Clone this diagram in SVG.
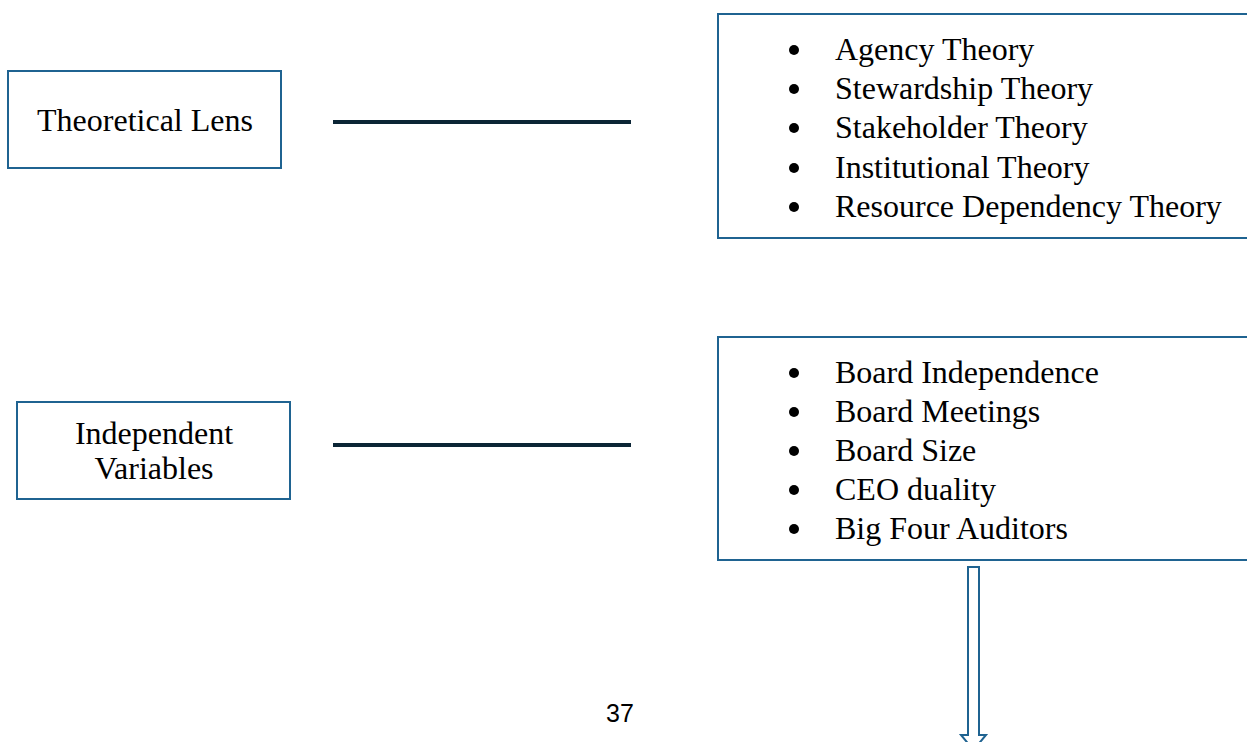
<svg xmlns="http://www.w3.org/2000/svg" width="1247" height="742" viewBox="0 0 1247 742">
<style>
.box{fill:#fff;stroke:#1f6391;stroke-width:2}
.t{font-family:"Liberation Serif","Times New Roman",serif;font-size:32px;fill:#000}
.c{text-anchor:middle}
.conn{stroke:#0b2535;stroke-width:4}
</style>
<rect width="1247" height="742" fill="#fff"/>
<g id="theoretical-lens">
<rect class="box" x="8" y="71" width="273" height="97"/>
<text class="t c" x="145" y="131">Theoretical Lens</text>
</g>
<g id="theories">
<rect class="box" x="718" y="14" width="540" height="224"/>
<g class="t">
<circle cx="794" cy="50" r="5"/><text x="835" y="60">Agency Theory</text>
<circle cx="794" cy="89" r="5"/><text x="835" y="99">Stewardship Theory</text>
<circle cx="794" cy="128" r="5"/><text x="835" y="138">Stakeholder Theory</text>
<circle cx="794" cy="168" r="5"/><text x="835" y="178">Institutional Theory</text>
<circle cx="794" cy="207" r="5"/><text x="835" y="217">Resource Dependency Theory</text>
</g>
</g>
<g id="independent-variables">
<rect class="box" x="17" y="402" width="273" height="97"/>
<text class="t c" x="154" y="444">Independent</text>
<text class="t c" x="154" y="479">Variables</text>
</g>
<g id="variables">
<rect class="box" x="718" y="337" width="540" height="223"/>
<g class="t">
<circle cx="794" cy="373" r="5"/><text x="835" y="383">Board Independence</text>
<circle cx="794" cy="412" r="5"/><text x="835" y="422">Board Meetings</text>
<circle cx="794" cy="451" r="5"/><text x="835" y="461">Board Size</text>
<circle cx="794" cy="490" r="5"/><text x="835" y="500">CEO duality</text>
<circle cx="794" cy="529" r="5"/><text x="835" y="539">Big Four Auditors</text>
</g>
</g>
<g id="connectors">
<line class="conn" x1="333" y1="122" x2="631" y2="122"/>
<line class="conn" x1="333" y1="445" x2="631" y2="445"/>
<path d="M968,567 H979 V735 H986 L973.5,750 L961,735 H968 Z" fill="#fff" stroke="#1f6391" stroke-width="2"/>
</g>
<text x="620" y="722" text-anchor="middle" font-family="Liberation Sans, Arial, sans-serif" font-size="25" fill="#000">37</text>
</svg>
